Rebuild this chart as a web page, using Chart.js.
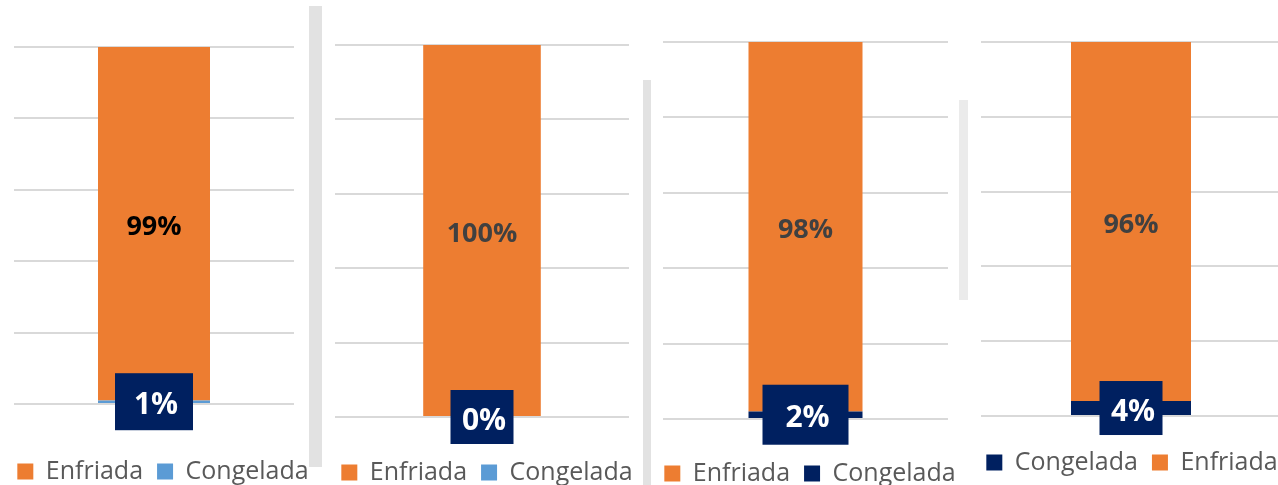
<!DOCTYPE html>
<html>
<head>
<meta charset="utf-8">
<script src="https://cdn.jsdelivr.net/npm/chart.js@4.4.1/dist/chart.umd.min.js"></script>
<style>
  body { margin: 0; width: 1278px; height: 485px; overflow: hidden; background: #fff; position: relative; }
  canvas { position: absolute; top: 0; }
  .strip { position: absolute; background: #e2e2e2; }
</style>
</head>
<body>
<div class="strip" style="left:309px;top:6px;width:13px;height:461px"></div>
<div class="strip" style="left:643px;top:80px;width:8px;height:405px"></div>
<div class="strip" style="left:959px;top:100px;width:9px;height:200px;background:#ebebeb"></div>

<canvas id="c0" width="330" height="494" style="left:-2px"></canvas>
<canvas id="c1" width="330" height="495" style="left:322px"></canvas>
<canvas id="c2" width="330" height="496" style="left:645px"></canvas>
<canvas id="c3" width="330" height="485" style="left:967px"></canvas>

<script>
// one bar per chart, values in %
const categories = [''];
const enfriada = [99, 100, 98, 96];
const congelada = [1, 0, 2, 4];
const congeladaColors = ['#5B9BD5', '#5B9BD5', '#002060', '#002060'];
const insideLabelColors = ['#000000', '#404040', '#404040', '#404040'];
const legendReversed = [true, true, true, false];
const yTicks = [0, 20, 40, 60, 80, 100];

// geometry of each small chart
const layouts = [
  { padTop: 47, wl: 16, wr: 34, xh: 41, boxW: 78, boxH: 57 },
  { padTop: 45, wl: 13, wr: 23, xh: 29, boxW: 63, boxH: 54 },
  { padTop: 42, wl: 18, wr: 27, xh: 28, boxW: 86, boxH: 60 },
  { padTop: 42, wl: 14, wr: 16, xh: 20, boxW: 63, boxH: 54 }
];

const barLabels = {
  id: 'barLabels',
  afterDatasetsDraw(chart, args, opts) {
    const ctx = chart.ctx;
    chart.data.datasets.forEach((ds, di) => {
      const meta = chart.getDatasetMeta(di);
      meta.data.forEach((bar, i) => {
        const v = ds.data[i];
        const cy = (bar.y + bar.base) / 2;
        ctx.save();
        ctx.textAlign = 'center';
        ctx.textBaseline = 'middle';
        if (ds.label === 'Congelada') {
          ctx.fillStyle = '#002060';
          ctx.fillRect(bar.x - opts.boxW / 2, cy - opts.boxH / 2, opts.boxW, opts.boxH);
          ctx.fillStyle = '#ffffff';
          ctx.font = 'bold 30px "Open Sans"';
          ctx.fillText(v + '%', bar.x + 2, cy + 4);
        } else {
          ctx.fillStyle = opts.color;
          ctx.font = 'bold 27px "Open Sans"';
          ctx.fillText(v + '%', bar.x, cy + 4);
        }
        ctx.restore();
      });
    });
  }
};

function makeChart(n) {
  const lay = layouts[n];
  new Chart(document.getElementById('c' + n), {
    type: 'bar',
    data: {
      labels: categories,
      datasets: [
        {
          label: 'Congelada',
          data: [congelada[n]],
          backgroundColor: congeladaColors[n],
          borderWidth: 0
        },
        {
          label: 'Enfriada',
          data: [enfriada[n]],
          backgroundColor: '#ED7D31',
          borderWidth: 0
        }
      ]
    },
    options: {
      responsive: false,
      animation: false,
      devicePixelRatio: 1,
      barPercentage: 0.4,
      categoryPercentage: 1.0,
      layout: { padding: { top: lay.padTop, left: 0, right: 0, bottom: 0 } },
      scales: {
        x: {
          stacked: true,
          grid: { display: false },
          border: { display: false },
          ticks: { display: false },
          afterFit: (s) => { s.height = lay.xh; }
        },
        y: {
          stacked: true,
          position: 'left',
          min: yTicks[0],
          max: yTicks[yTicks.length - 1],
          ticks: { display: false, stepSize: yTicks[1] - yTicks[0] },
          grid: { color: '#d9d9d9', lineWidth: 2, drawTicks: false },
          border: { display: false },
          afterFit: (s) => { s.width = lay.wl; }
        },
        y2: {
          type: 'linear',
          position: 'right',
          grid: { display: false },
          ticks: { display: false },
          border: { display: false },
          afterFit: (s) => { s.width = lay.wr; }
        }
      },
      plugins: {
        legend: {
          position: 'bottom',
          reverse: legendReversed[n],
          labels: {
            boxWidth: 16,
            boxHeight: 16,
            padding: 14,
            color: '#595959',
            font: { family: 'Open Sans', size: 25 }
          }
        },
        tooltip: { enabled: false },
        barLabels: { boxW: lay.boxW, boxH: lay.boxH, color: insideLabelColors[n] }
      }
    },
    plugins: [barLabels]
  });
}

for (let n = 0; n < 4; n++) makeChart(n);
</script>
</body>
</html>
